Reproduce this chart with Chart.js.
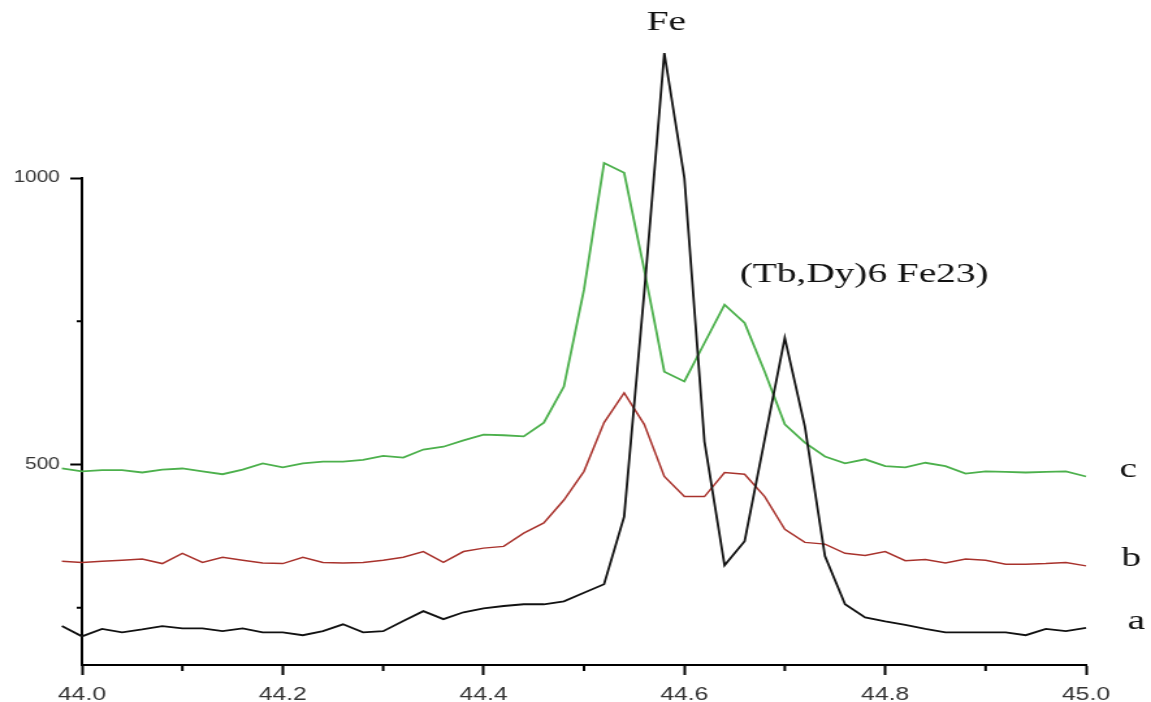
<!DOCTYPE html>
<html>
<head>
<meta charset="utf-8">
<script src="https://cdn.jsdelivr.net/npm/chart.js@4.4.1/dist/chart.umd.min.js"></script>
<style>
  html, body { margin: 0; padding: 0; background: #fff; overflow: hidden; }
  #wrap { width: 1151px; height: 702px; }
  /* the original figure is stretched sideways, so stretch the canvas too */
  #xrd { transform: scaleX(1.3006); transform-origin: 0 0; }
</style>
</head>
<body>
<div id="wrap"><canvas id="xrd" width="885" height="702"></canvas></div>
<script>
// 2-theta positions (deg)
const twoTheta = [43.98, 44.00, 44.02, 44.04, 44.06, 44.08, 44.10, 44.12, 44.14, 44.16,
  44.18, 44.20, 44.22, 44.24, 44.26, 44.28, 44.30, 44.32, 44.34, 44.36,
  44.38, 44.40, 44.42, 44.44, 44.46, 44.48, 44.50, 44.52, 44.54, 44.56,
  44.58, 44.60, 44.62, 44.64, 44.66, 44.68, 44.70, 44.72, 44.74, 44.76,
  44.78, 44.80, 44.82, 44.84, 44.86, 44.88, 44.90, 44.92, 44.94, 44.96,
  44.98, 45.00, 45.02]

// intensity, pattern a (black)
const seriesA = [218, 200, 213, 207, 212, 218, 214, 214, 209, 214,
  207, 207, 202, 209, 221, 207, 209, 227, 244, 230,
  242, 249, 253, 256, 256, 261, 276, 291, 409, 800,
  1218, 1000, 540, 324, 366, 544, 721, 566, 340, 256,
  233, 226, 220, 213, 207, 207, 207, 207, 202, 213,
  209, 215, 221]

// pattern b (red)
const seriesB = [331, 329, 331, 333, 335, 327, 345, 329, 338, 333,
  328, 327, 338, 329, 328, 329, 333, 338, 348, 329,
  348, 354, 357, 380, 398, 438, 488, 573, 625, 570,
  479, 444, 444, 486, 483, 444, 387, 364, 361, 345,
  341, 348, 332, 334, 328, 335, 333, 326, 326, 327,
  329, 323, 324]

// pattern c (green)
const seriesC = [493, 488, 490, 490, 486, 491, 493, 488, 483, 491,
  502, 495, 502, 505, 505, 508, 515, 512, 526, 531,
  542, 552, 551, 549, 573, 636, 805, 1026, 1009, 840,
  662, 645, 712, 779, 747, 662, 570, 538, 514, 502,
  509, 497, 495, 503, 497, 484, 488, 487, 486, 487,
  488, 479, 488]

const xTicks = [44.0, 44.2, 44.4, 44.6, 44.8, 45.0]
const xMinorTicks = [44.1, 44.3, 44.5, 44.7, 44.9]
const yTicks = [500, 1000]
const yMinorTicks = [250, 750]

const toPoints = ys => ys.map((y, i) => ({ x: twoTheta[i], y: y }))

// text annotations, placed in data units
const notes = [
  { text: 'Fe', x: 44.582, y: 1272, align: 'center' },
  { text: '(Tb,Dy)6 Fe23)', x: 44.655, y: 831, align: 'left' },
  { text: 'a', x: 45.050, y: 226, align: 'center' },
  { text: 'b', x: 45.045, y: 335, align: 'center' },
  { text: 'c', x: 45.042, y: 491, align: 'center' },
]

const extras = {
  id: 'extras',
  afterDraw(chart) {
    const ctx = chart.ctx
    const xs = chart.scales.x
    const ys = chart.scales.y
    ctx.save()
    ctx.strokeStyle = '#000'
    ctx.lineWidth = 2
    ctx.beginPath()
    xMinorTicks.forEach(v => {
      const px = xs.getPixelForValue(v)
      ctx.moveTo(px, ys.bottom)
      ctx.lineTo(px, ys.bottom + 6)
    })
    yMinorTicks.forEach(v => {
      const py = ys.getPixelForValue(v)
      ctx.moveTo(xs.left, py)
      ctx.lineTo(xs.left - 4, py)
    })
    ctx.stroke()

    ctx.fillStyle = '#111'
    ctx.font = '28px "Liberation Serif", "Times New Roman", serif'
    ctx.textBaseline = 'middle'
    const sx = 1.08
    notes.forEach(n => {
      ctx.save()
      ctx.translate(xs.getPixelForValue(n.x), ys.getPixelForValue(n.y))
      ctx.scale(sx, 1)
      ctx.textAlign = n.align
      ctx.fillText(n.text, 0, 0)
      ctx.restore()
    })
    ctx.restore()
  }
}

const ctx = document.getElementById('xrd')
window.xrdChart = new Chart(ctx, {
  type: 'line',
  data: {
    datasets: [
      { label: 'a', data: toPoints(seriesA), borderColor: '#111111', borderWidth: 1.8 },
      { label: 'b', data: toPoints(seriesB), borderColor: '#a8322c', borderWidth: 1.5 },
      { label: 'c', data: toPoints(seriesC), borderColor: '#4cb04c', borderWidth: 1.8 },
    ],
  },
  options: {
    responsive: false,
    animation: false,
    devicePixelRatio: 1,
    layout: { padding: { top: 178, right: 50, left: 0, bottom: 0 } },
    elements: {
      point: { radius: 0 },
      line: { tension: 0, fill: false },
    },
    datasets: { line: { clip: false } },
    plugins: {
      legend: { display: false },
      tooltip: { enabled: false },
    },
    scales: {
      x: {
        type: 'linear',
        min: 44.0,
        max: 45.0,
        border: { color: '#000', width: 2 },
        grid: { drawOnChartArea: false, tickLength: 10, tickColor: '#000', tickWidth: 2 },
        ticks: {
          padding: 8,
          color: '#333',
          font: { family: '"Liberation Sans", Arial, sans-serif', size: 19 },
          maxRotation: 0,
          callback: v => Number(v).toFixed(1),
        },
        afterBuildTicks: s => { s.ticks = xTicks.map(v => ({ value: v })) },
        afterFit: s => { s.height = 37 },
      },
      y: {
        type: 'linear',
        min: 150,
        max: 1000,
        border: { color: '#000', width: 2 },
        grid: { drawOnChartArea: false, tickLength: 9, tickColor: '#000', tickWidth: 2 },
        ticks: {
          padding: 8,
          color: '#333',
          font: { family: '"Liberation Sans", Arial, sans-serif', size: 16 },
          callback: v => String(v),
        },
        afterBuildTicks: s => { s.ticks = yTicks.map(v => ({ value: v })) },
        afterFit: s => { s.width = 63 },
      },
    },
  },
  plugins: [extras],
})
</script>
</body>
</html>
